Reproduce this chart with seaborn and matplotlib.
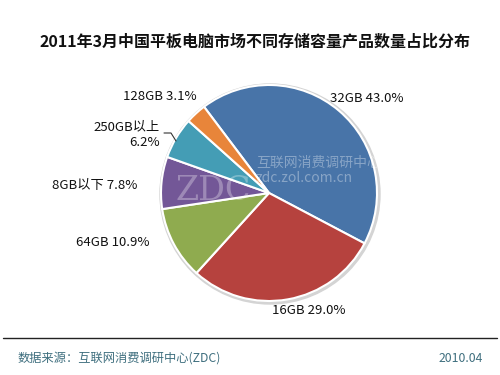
import matplotlib
matplotlib.use('Agg')
import matplotlib.pyplot as plt
import seaborn as sns
from matplotlib.patches import Circle

# 数据
categories = ['32GB', '16GB', '64GB', '8GB以下', '250GB以上', '128GB']
shares = [43.0, 29.0, 10.9, 7.8, 6.2, 3.1]
label_texts = ['32GB 43.0%', '16GB 29.0%', '64GB 10.9%', '8GB以下 7.8%', '250GB以上\n6.2%', '128GB 3.1%']
title = '2011年3月中国平板电脑市场不同存储容量产品数量占比分布'
source = '数据来源：互联网消费调研中心(ZDC)'
date_text = '2010.04'

sns.set_style('white')
plt.rcParams['font.family'] = ['Noto Sans CJK SC', 'DejaVu Sans']

colors = ['#4874a8', '#b6423e', '#8fab4f', '#735797', '#449db5', '#e8853a']

fig = plt.figure(figsize=(5, 3.75), dpi=100)
ax = fig.add_axes([0, 0, 1, 1])

cx, cy, r = 269, 182, 108

# 浅灰色外圈阴影
ax.add_patch(Circle((cx + 1, cy - 1), r + 2, color='#d4d4d4', zorder=0))

ax.pie(shares, colors=colors, startangle=127, counterclock=False,
       center=(cx, cy), radius=r, frame=True,
       wedgeprops=dict(edgecolor='white', linewidth=1.5))
ax.set_xlim(0, 500)
ax.set_ylim(0, 375)
ax.set_aspect('equal')
ax.axis('off')

# 标签位置（像素坐标）
label_pos = [(330, 276, 'left'), (272, 64, 'left'), (150, 132, 'right'),
             (137, 190, 'right'), (160, 240, 'right'), (197, 278, 'right')]
for txt, (x, y, ha) in zip(label_texts, label_pos):
    ax.text(x, y, txt, ha=ha, va='center', fontsize=9.5, color='#111111',
            linespacing=1.3)

# 250GB 引线
ax.plot([164, 171, 176], [242, 242, 234], color='#333333', lw=0.8)

# 水印
ax.text(176, 184, 'ZDC', fontsize=24, color='white', alpha=0.3,
        family='DejaVu Serif', va='center', ha='left')
ax.text(256, 212, '互联网消费调研中心', fontsize=10, color='white', alpha=0.35,
        va='center', ha='left')
ax.text(256, 197, 'zdc.zol.com.cn', fontsize=10, color='white', alpha=0.35,
        va='center', ha='left')

# 标题
fig.text(0.51, 1 - 42 / 375, title, ha='center', va='center',
         fontsize=11.5, fontweight='bold', color='#111111')

# 底部分隔线与来源
ax.plot([3, 497], [37, 37], color='#222222', lw=1.0)
fig.text(18 / 500, 1 - 358 / 375, source, ha='left', va='center',
         fontsize=8.8, color='#3f6f7f')
fig.text(483 / 500, 1 - 358 / 375, date_text, ha='right', va='center',
         fontsize=8.8, color='#3f6f7f')

fig.savefig('out.png', dpi=100, facecolor='white')
